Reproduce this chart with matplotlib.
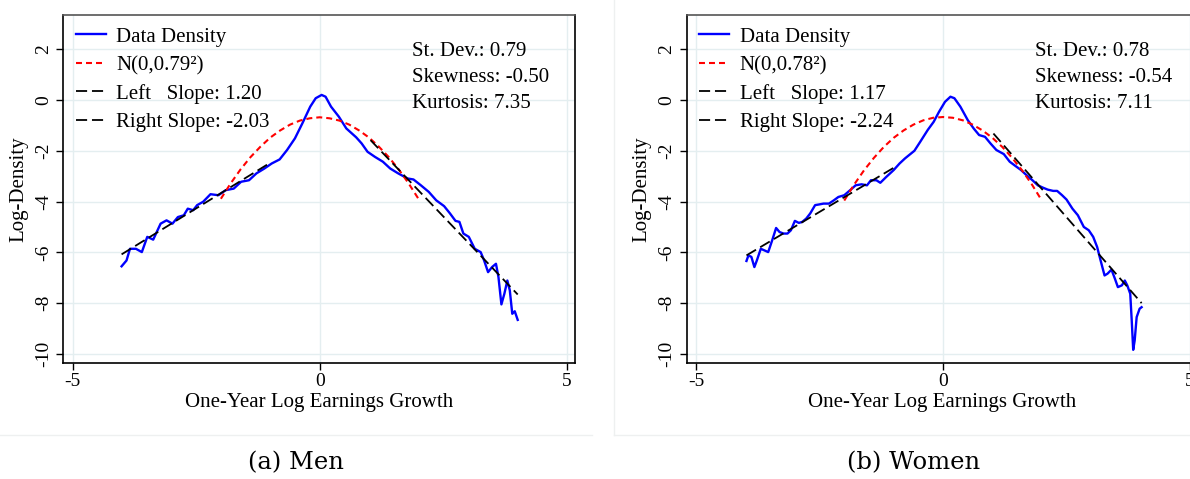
import matplotlib
matplotlib.use("Agg")
import matplotlib.pyplot as plt
from matplotlib.lines import Line2D

plt.rcParams['font.family'] = ['Liberation Serif', 'DejaVu Serif']
plt.rcParams['lines.scale_dashes'] = False
plt.rcParams['axes.unicode_minus'] = False

# ---- datos ----
# Hombres: densidad de los datos (log)
men_x = [-4.01, -3.91, -3.84, -3.72, -3.60, -3.49, -3.37, -3.22, -3.10, -2.98,
         -2.87, -2.75, -2.67, -2.56, -2.48, -2.36, -2.21, -2.05, -1.90, -1.74,
         -1.59, -1.43, -1.28, -1.12, -0.97, -0.81, -0.66, -0.50, -0.35, -0.19,
         -0.08, 0.04, 0.12, 0.23, 0.39, 0.54, 0.74, 0.85, 0.97, 1.12,
         1.28, 1.43, 1.59, 1.78, 1.90, 2.05, 2.21, 2.36, 2.52, 2.64,
         2.75, 2.83, 2.91, 3.02, 3.14, 3.26, 3.33, 3.41, 3.49, 3.57,
         3.62, 3.68, 3.74, 3.80, 3.85, 3.90, 3.95, 4.01]
men_y = [-6.55, -6.32, -5.86, -5.86, -5.99, -5.39, -5.50, -4.87, -4.74, -4.87,
         -4.61, -4.54, -4.28, -4.34, -4.14, -4.01, -3.71, -3.75, -3.55, -3.49,
         -3.22, -3.16, -2.89, -2.70, -2.50, -2.34, -1.97, -1.51, -0.92, -0.26,
         0.07, 0.20, 0.13, -0.26, -0.66, -1.12, -1.47, -1.71, -2.04, -2.24,
         -2.43, -2.70, -2.89, -3.09, -3.13, -3.36, -3.62, -3.95, -4.18, -4.47,
         -4.76, -4.80, -5.26, -5.39, -5.86, -5.99, -6.32, -6.78, -6.58, -6.45,
         -6.97, -8.05, -7.63, -7.11, -7.50, -8.42, -8.32, -8.66]

# Mujeres: densidad de los datos (log)
women_x = [-3.98, -3.94, -3.88, -3.82, -3.77, -3.69, -3.62, -3.54, -3.46, -3.38,
           -3.31, -3.23, -3.15, -3.08, -3.00, -2.92, -2.85, -2.77, -2.69, -2.59,
           -2.50, -2.42, -2.31, -2.21, -2.12, -2.00, -1.88, -1.77, -1.65, -1.54,
           -1.46, -1.35, -1.27, -1.15, -1.00, -0.88, -0.77, -0.65, -0.58, -0.46,
           -0.31, -0.19, -0.08, 0.04, 0.15, 0.23, 0.35, 0.50, 0.62, 0.73,
           0.85, 0.96, 1.08, 1.23, 1.35, 1.46, 1.58, 1.69, 1.81, 1.92,
           2.02, 2.12, 2.23, 2.31, 2.41, 2.50, 2.62, 2.73, 2.85, 2.95,
           3.04, 3.12, 3.19, 3.27, 3.33, 3.41, 3.48, 3.54, 3.62, 3.68,
           3.73, 3.79, 3.82, 3.85, 3.88, 3.92, 3.98, 4.02]
women_y = [-6.34, -6.12, -6.18, -6.58, -6.32, -5.86, -5.92, -5.99, -5.53, -5.04,
           -5.20, -5.26, -5.26, -5.13, -4.76, -4.84, -4.80, -4.67, -4.47, -4.14,
           -4.11, -4.08, -4.08, -3.95, -3.82, -3.75, -3.55, -3.36, -3.32, -3.36,
           -3.16, -3.16, -3.26, -3.03, -2.76, -2.50, -2.30, -2.11, -2.00, -1.64,
           -1.18, -0.86, -0.46, -0.07, 0.13, 0.07, -0.26, -0.79, -1.12, -1.38,
           -1.45, -1.71, -1.97, -2.13, -2.43, -2.59, -2.76, -2.96, -3.16, -3.36,
           -3.45, -3.53, -3.58, -3.58, -3.75, -3.92, -4.28, -4.54, -5.00, -5.13,
           -5.39, -5.79, -6.32, -6.91, -6.84, -6.68, -7.04, -7.37, -7.30, -7.11,
           -7.30, -7.63, -8.68, -9.84, -9.47, -8.55, -8.22, -8.16]

# Normal de referencia (log-densidad)
norm_x = [-2.0, -1.8, -1.6, -1.4, -1.2, -1.0, -0.8, -0.6, -0.4, -0.2, 0.0,
          0.2, 0.4, 0.6, 0.8, 1.0, 1.2, 1.4, 1.6, 1.8, 2.0]
men_norm_y = [-3.89, -3.28, -2.73, -2.25, -1.84, -1.48, -1.20, -0.97, -0.81, -0.72, -0.68,
              -0.72, -0.81, -0.97, -1.20, -1.48, -1.84, -2.25, -2.73, -3.28, -3.89]
women_norm_y = [-3.96, -3.33, -2.77, -2.28, -1.85, -1.49, -1.20, -0.97, -0.80, -0.70, -0.67,
                -0.70, -0.80, -0.97, -1.20, -1.49, -1.85, -2.28, -2.77, -3.33, -3.96]

# Rectas de las colas (extremos)
men_left_x, men_left_y = [-4.01, -1.05], [-6.08, -2.53]
men_right_x, men_right_y = [1.03, 4.01], [-1.58, -7.66]
women_left_x, women_left_y = [-3.98, -1.00], [-6.12, -2.67]
women_right_x, women_right_y = [1.02, 4.02], [-1.32, -8.00]

paneles = [
    {"x": men_x, "y": men_y, "norm": men_norm_y,
     "lx": men_left_x, "ly": men_left_y, "rx": men_right_x, "ry": men_right_y,
     "sd": "0.79", "skew": "-0.50", "kurt": "7.35", "ls": "1.20", "rs": "-2.03",
     "titulo": "(a) Men"},
    {"x": women_x, "y": women_y, "norm": women_norm_y,
     "lx": women_left_x, "ly": women_left_y, "rx": women_right_x, "ry": women_right_y,
     "sd": "0.78", "skew": "-0.54", "kurt": "7.11", "ls": "1.17", "rs": "-2.24",
     "titulo": "(b) Women"},
]

W, H = 1190, 479
fig = plt.figure(figsize=(W / 100, H / 100), dpi=100)
fig.patch.set_facecolor('white')

# posiciones de los ejes en pixeles: izquierda, abajo
pos_ejes = [(63.3, 363.3), (686.7, 363.3)]
ancho, alto = 511.7, 348.6
centro_titulo = [296, 914]

grid_col = '#e4eef0'
for i, p in enumerate(paneles):
    x0, y0 = pos_ejes[i]
    ax = fig.add_axes([x0 / W, 1 - y0 / H, ancho / W, alto / H])
    ax.set_xlim(-5.19, 5.17)
    ax.set_ylim(-10.37, 3.36)
    ax.set_xticks([-5, 0, 5])
    ax.set_yticks([-10, -8, -6, -4, -2, 0, 2])
    ax.grid(True, color=grid_col, linewidth=1.0)
    ax.set_axisbelow(True)

    ax.plot(p["x"], p["y"], color='#0000ff', linewidth=1.7, label='Data Density', zorder=3)
    ax.plot(norm_x, p["norm"], color='#ff0000', linewidth=1.5, dashes=(4.3, 2.9),
            label='N(0,%s²)' % p["sd"], zorder=4)
    ax.plot(p["lx"], p["ly"], color='black', linewidth=1.3, dashes=(8, 3.5),
            label='Left   Slope: %s' % p["ls"], zorder=5)
    ax.plot(p["rx"], p["ry"], color='black', linewidth=1.3, dashes=(8, 3.5),
            label='Right Slope: %s' % p["rs"], zorder=5)

    ax.legend(loc='upper left', frameon=False, fontsize=15, handlelength=1.45,
              handletextpad=0.5, labelspacing=0.42, borderaxespad=0.35, borderpad=0.25)

    ax.text(1.87, 1.90, 'St. Dev.: %s' % p["sd"], fontsize=15, va='center')
    ax.text(1.87, 0.88, 'Skewness: %s' % p["skew"], fontsize=15, va='center')
    ax.text(1.87, -0.14, 'Kurtosis: %s' % p["kurt"], fontsize=15, va='center')

    ax.set_xlabel('One-Year Log Earnings Growth', fontsize=15, labelpad=2)
    ax.set_ylabel('Log-Density', fontsize=15, labelpad=5)
    ax.tick_params(axis='both', labelsize=14, length=5, width=1, pad=2)
    ax.tick_params(axis='y', pad=3)
    for lab in ax.get_yticklabels():
        lab.set_rotation(90)
        lab.set_va('center')
    for s in ax.spines.values():
        s.set_linewidth(1.2)
    ax.spines['top'].set_color('#555555')

    fig.text(centro_titulo[i] / W, 1 - 463 / H, p["titulo"], fontsize=17.5,
             family='DejaVu Serif', ha='center', va='center')

# marcos claros de cada panel
marco = '#eef0f0'
fig.add_artist(Line2D([0, 592 / W], [1 - 435 / H, 1 - 435 / H], color=marco, linewidth=1))
fig.add_artist(Line2D([614 / W, 1], [1 - 435 / H, 1 - 435 / H], color=marco, linewidth=1))
fig.add_artist(Line2D([614 / W, 614 / W], [1 - 435 / H, 1], color=marco, linewidth=1))

fig.savefig('out.png', dpi=100)
